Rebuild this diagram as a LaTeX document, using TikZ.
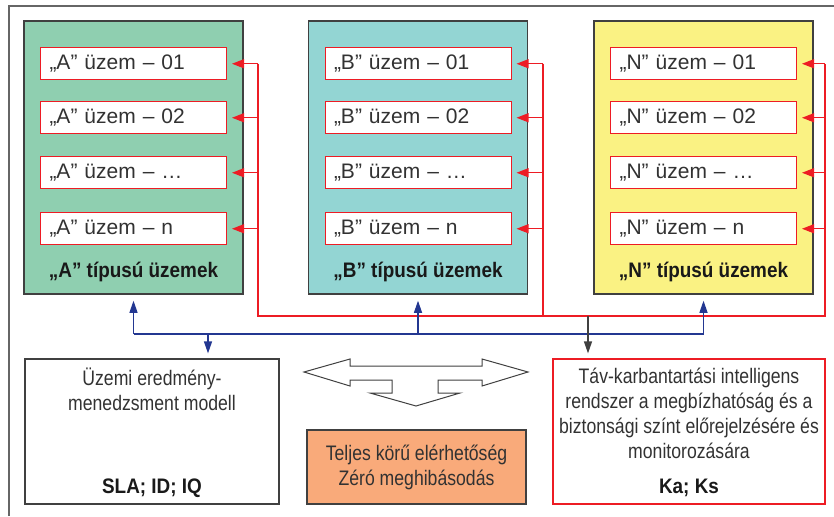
\documentclass[tikz,border=0pt]{standalone}
\usepackage{fontspec}
\setmainfont{Liberation Sans}
\newfontfamily\condfont[FakeStretch=0.84]{Liberation Sans}
\newfontfamily\condboldfont[FakeStretch=0.9]{Liberation Sans}
\usepackage{tikz}
\usetikzlibrary{positioning, arrows.meta}
\definecolor{greenbox}{RGB}{143,207,176}
\definecolor{tealbox}{RGB}{147,213,211}
\definecolor{yellowbox}{RGB}{250,242,131}
\definecolor{orangebox}{RGB}{249,170,122}
\definecolor{redline}{RGB}{237,28,36}
\definecolor{blueline}{RGB}{35,55,145}
\definecolor{framegray}{RGB}{64,64,64}
\definecolor{textgray}{RGB}{50,50,50}
\tikzset{
	group/.append style={
		draw=framegray,
		line width=1.5pt,
		minimum width=219pt,
		minimum height=273pt,
		inner sep=0pt,
	},
	plant/.append style={
		draw=redline,
		fill=white,
		line width=1pt,
		minimum width=186pt,
		minimum height=32pt,
		text width=168pt,
		inner xsep=9pt,
		inner ysep=0pt,
		text height=15pt,
		text depth=3pt,
		align=left,
		text=textgray,
		font={\fontsize{21}{25}\selectfont}
	},
	grouplabel/.append style={
		inner sep=0pt,
		text=black!90,
		font={\fontsize{21}{25}\selectfont\condboldfont\bfseries}
	},
	textbox/.append style={
		line width=1.2pt,
		inner sep=0pt,
	},
	bodytext/.append style={
		align=center,
		inner sep=0pt,
		text=textgray,
		font={\fontsize{21}{25}\selectfont\condfont}
	},
	boldtext/.append style={
		inner sep=0pt,
		text=black!90,
		font={\fontsize{21}{25}\selectfont\condboldfont\bfseries}
	},
	redwire/.append style={draw=redline, line width=1.2pt},
	redarrow/.append style={redwire, -{Triangle[length=12pt, width=9pt]}, shorten >=5pt},
	bluewire/.append style={draw=blueline, line width=1.2pt},
	bluearrow/.append style={bluewire, -{Triangle[length=12pt, width=8pt]}},
	blackarrow/.append style={draw=framegray, line width=1.2pt, -{Triangle[length=12pt, width=8pt]}, shorten >=5pt},
	frame/.append style={draw=framegray!80, line width=1.2pt},
}

\begin{document}
\begin{tikzpicture}[x=1pt, y=1pt]
	\useasboundingbox (0,0) rectangle (834,-516);
	\draw[frame] (9,-516) -- (9,-6) -- (834,-6);

	% A tipusu uzemek
	\node(groupA)[group, fill=greenbox] at (133.5,-157.5) {};
	\node(a1)[plant, below=27pt of groupA.north] {„A” üzem – 01};
	\node(a2)[plant, below=21pt of a1] {„A” üzem – 02};
	\node(a3)[plant, below=22pt of a2] {„A” üzem – …};
	\node(a4)[plant, below=23pt of a3] {„A” üzem – n};
	\node(lblA)[grouplabel, above=17pt of groupA.south, anchor=base] {„A” típusú üzemek};

	% B tipusu uzemek
	\node(groupB)[group, fill=tealbox, right=64pt of groupA] {};
	\node(b1)[plant, below=27pt of groupB.north] {„B” üzem – 01};
	\node(b2)[plant, below=21pt of b1] {„B” üzem – 02};
	\node(b3)[plant, below=22pt of b2] {„B” üzem – …};
	\node(b4)[plant, below=23pt of b3] {„B” üzem – n};
	\node(lblB)[grouplabel, above=17pt of groupB.south, anchor=base] {„B” típusú üzemek};

	% N tipusu uzemek
	\node(groupN)[group, fill=yellowbox, right=65pt of groupB] {};
	\node(n1)[plant, below=27pt of groupN.north] {„N” üzem – 01};
	\node(n2)[plant, below=21pt of n1] {„N” üzem – 02};
	\node(n3)[plant, below=22pt of n2] {„N” üzem – …};
	\node(n4)[plant, below=23pt of n3] {„N” üzem – n};
	\node(lblN)[grouplabel, above=17pt of groupN.south, anchor=base] {„N” típusú üzemek};

	% bottom boxes
	\node(model)[textbox, draw=framegray, minimum width=254pt, minimum height=145pt] at (152,-431.5) {};
	\node(modeltext)[bodytext, anchor=base] at (152,-410) {Üzemi eredmény-\\menedzsment modell};
	\node(sla)[boldtext, above=11pt of model.south, anchor=base] {SLA; ID; IQ};

	\node(target)[textbox, bodytext, draw=framegray, line width=1.5pt, fill=orangebox,
		minimum width=219pt, minimum height=74pt] at (416.5,-467) {Teljes körű elérhetőség\\Zéró meghibásodás};

	\node(remote)[textbox, draw=redline, minimum width=272pt, minimum height=145pt] at (689,-431.5) {};
	\node(remotetext)[bodytext, anchor=base] at (689,-458) {Táv-karbantartási intelligens\\
		rendszer a megbízhatóság és a\\
		biztonsági színt előrejelzésére és\\
		monitorozására};
	\node(kaks)[boldtext, above=11pt of remote.south, anchor=base] {Ka; Ks};

	% red feedback lines
	\coordinate(redA) at (258,-316);
	\coordinate(redB) at (543,-316);
	\coordinate(redN) at (825,-316);
	\draw[redwire] (redA |- a1) -- (redA) -- (redN) -- (redN |- n1);
	\draw[redwire] (redB |- b1) -- (redB);
	\draw[redarrow] (redA |- a1) -- (a1);
	\draw[redarrow] (redA |- a2) -- (a2);
	\draw[redarrow] (redA |- a3) -- (a3);
	\draw[redarrow] (redA |- a4) -- (a4);
	\draw[redarrow] (redB |- b1) -- (b1);
	\draw[redarrow] (redB |- b2) -- (b2);
	\draw[redarrow] (redB |- b3) -- (b3);
	\draw[redarrow] (redB |- b4) -- (b4);
	\draw[redarrow] (redN |- n1) -- (n1);
	\draw[redarrow] (redN |- n2) -- (n2);
	\draw[redarrow] (redN |- n3) -- (n3);
	\draw[redarrow] (redN |- n4) -- (n4);

	% blue bus
	\coordinate(bluebus) at (208,-334);
	\draw[bluewire] (groupA.south |- bluebus) -- (groupN.south |- bluebus);
	\draw[bluearrow, shorten >=6pt] (groupA.south |- bluebus) -- (groupA);
	\draw[bluearrow, shorten >=6pt] (groupB.south |- bluebus) -- (groupB);
	\draw[bluearrow, shorten >=6pt] (groupN.south |- bluebus) -- (groupN);
	\draw[bluearrow, shorten >=5pt] (bluebus) -- (bluebus |- model.north);

	\coordinate(blackstart) at (588,-316);
	\draw[blackarrow] (blackstart) -- (blackstart |- remote.north);

	% hollow three-way arrow
	\draw[framegray, line width=1pt, fill=white] (304,-372) -- (350,-359) -- (350,-366) -- (482,-366)
		-- (482,-359) -- (528,-372) -- (482,-386) -- (482,-380) -- (438,-380) -- (438,-393)
		-- (460,-393) -- (416,-406) -- (370,-393) -- (392,-393) -- (392,-380) -- (350,-380)
		-- (350,-386) -- cycle;
\end{tikzpicture}
\end{document}
